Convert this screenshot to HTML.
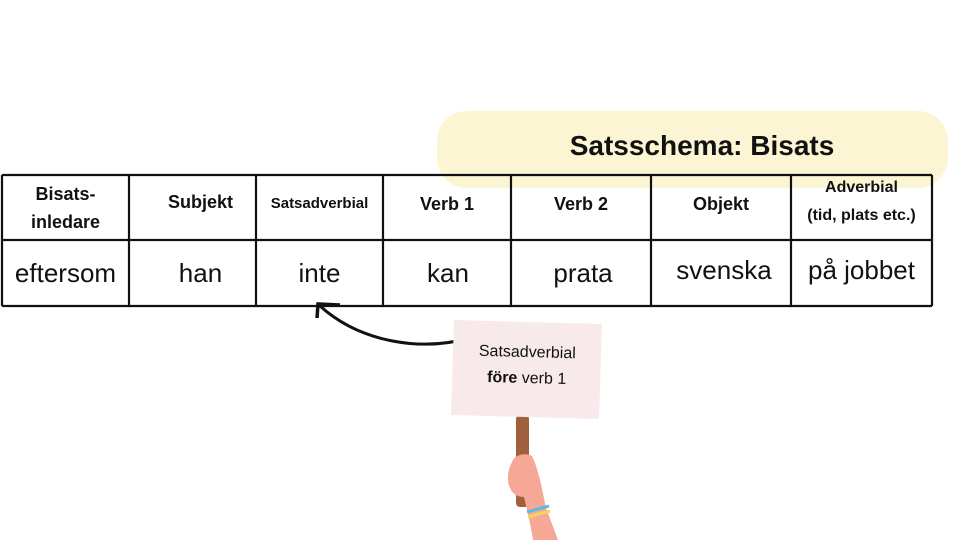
<!DOCTYPE html>
<html><head><meta charset="utf-8"><style>
body{margin:0;width:960px;height:540px;background:#fff;position:relative;overflow:hidden;font-family:"Liberation Sans","DejaVu Sans",sans-serif}
.pill{position:absolute;left:437px;top:111px;width:511px;height:77px;border-radius:30px;background:#fbf5d3}
.title{position:absolute;left:437px;top:130px;width:530px;text-align:center;font-weight:bold;font-size:28px;color:#111}
.cell{position:absolute;display:flex;align-items:center;justify-content:center;text-align:center;color:#111}
.h{font-weight:bold;font-size:18px;line-height:28px}
.v{font-size:26px}
.sign{position:absolute;left:454px;top:340px;width:146px;text-align:center;font-size:16px;line-height:26px;color:#111;transform:rotate(1.5deg)}
</style></head><body>
<div class="pill"></div>
<div class="title">Satsschema: Bisats</div>
<svg width="960" height="540" style="position:absolute;left:0;top:0">
<g stroke="#111" stroke-width="2.2" fill="none">
<line x1="2" y1="175" x2="932" y2="175"/>
<line x1="2" y1="240" x2="932" y2="240"/>
<line x1="2" y1="306" x2="932" y2="306"/>
<line x1="2" y1="175" x2="2" y2="306"/>
<line x1="129" y1="175" x2="129" y2="306"/>
<line x1="256" y1="175" x2="256" y2="306"/>
<line x1="383" y1="175" x2="383" y2="306"/>
<line x1="511" y1="175" x2="511" y2="306"/>
<line x1="651" y1="175" x2="651" y2="306"/>
<line x1="791" y1="175" x2="791" y2="306"/>
<line x1="932" y1="175" x2="932" y2="306"/>
</g>
<path d="M470,338 C420,352 360,342 320,306" stroke="#111" stroke-width="3" fill="none"/>
<path d="M317,318 L318,304 L340,305" stroke="#111" stroke-width="3.5" fill="none"/>
<rect x="516" y="415" width="13" height="92" rx="4" fill="#a0603e"/>
<path d="M512,462 C514,455 525,452 532,456 C538,468 542,488 546,508 L558,540 L533,540 C530,522 527,510 524,497 C513,497 508,488 508,478 C508,470 510,466 512,462Z" fill="#f6a796"/>
<path d="M527,512 L549,506" stroke="#58bfe0" stroke-width="3"/>
<path d="M528,517 L550,511" stroke="#f2d55a" stroke-width="3"/>
<polygon points="454,320 602,324 599,419 451,415" fill="#f8eaea"/>
</svg>
<div class="cell h" style="left:2px;top:175px;width:127px;height:65px">Bisats-<br>inledare</div>
<div class="cell h" style="left:129px;top:175px;width:143px;height:65px;margin-top:-6px">Subjekt</div>
<div class="cell h" style="left:256px;top:175px;width:127px;height:65px;font-size:15px;margin-top:-4px">Satsadverbial</div>
<div class="cell h" style="left:383px;top:175px;width:128px;height:65px;margin-top:-4px">Verb 1</div>
<div class="cell h" style="left:511px;top:175px;width:140px;height:65px;margin-top:-4px">Verb 2</div>
<div class="cell h" style="left:651px;top:175px;width:140px;height:65px;margin-top:-4px">Objekt</div>
<div class="cell h" style="left:791px;top:175px;width:141px;height:65px;font-size:16px;line-height:28px;margin-top:-6px">Adverbial<br>(tid, plats etc.)</div>
<div class="cell v" style="left:2px;top:240px;width:127px;height:66px">eftersom</div>
<div class="cell v" style="left:129px;top:240px;width:143px;height:66px">han</div>
<div class="cell v" style="left:256px;top:240px;width:127px;height:66px">inte</div>
<div class="cell v" style="left:383px;top:240px;width:130px;height:66px">kan</div>
<div class="cell v" style="left:511px;top:240px;width:144px;height:66px">prata</div>
<div class="cell v" style="left:651px;top:240px;width:146px;height:66px;margin-top:-3px">svenska</div>
<div class="cell v" style="left:791px;top:240px;width:141px;height:66px;margin-top:-3px">på jobbet</div>
<div class="sign">Satsadverbial<br><b>före</b> verb 1</div>
</body></html>
